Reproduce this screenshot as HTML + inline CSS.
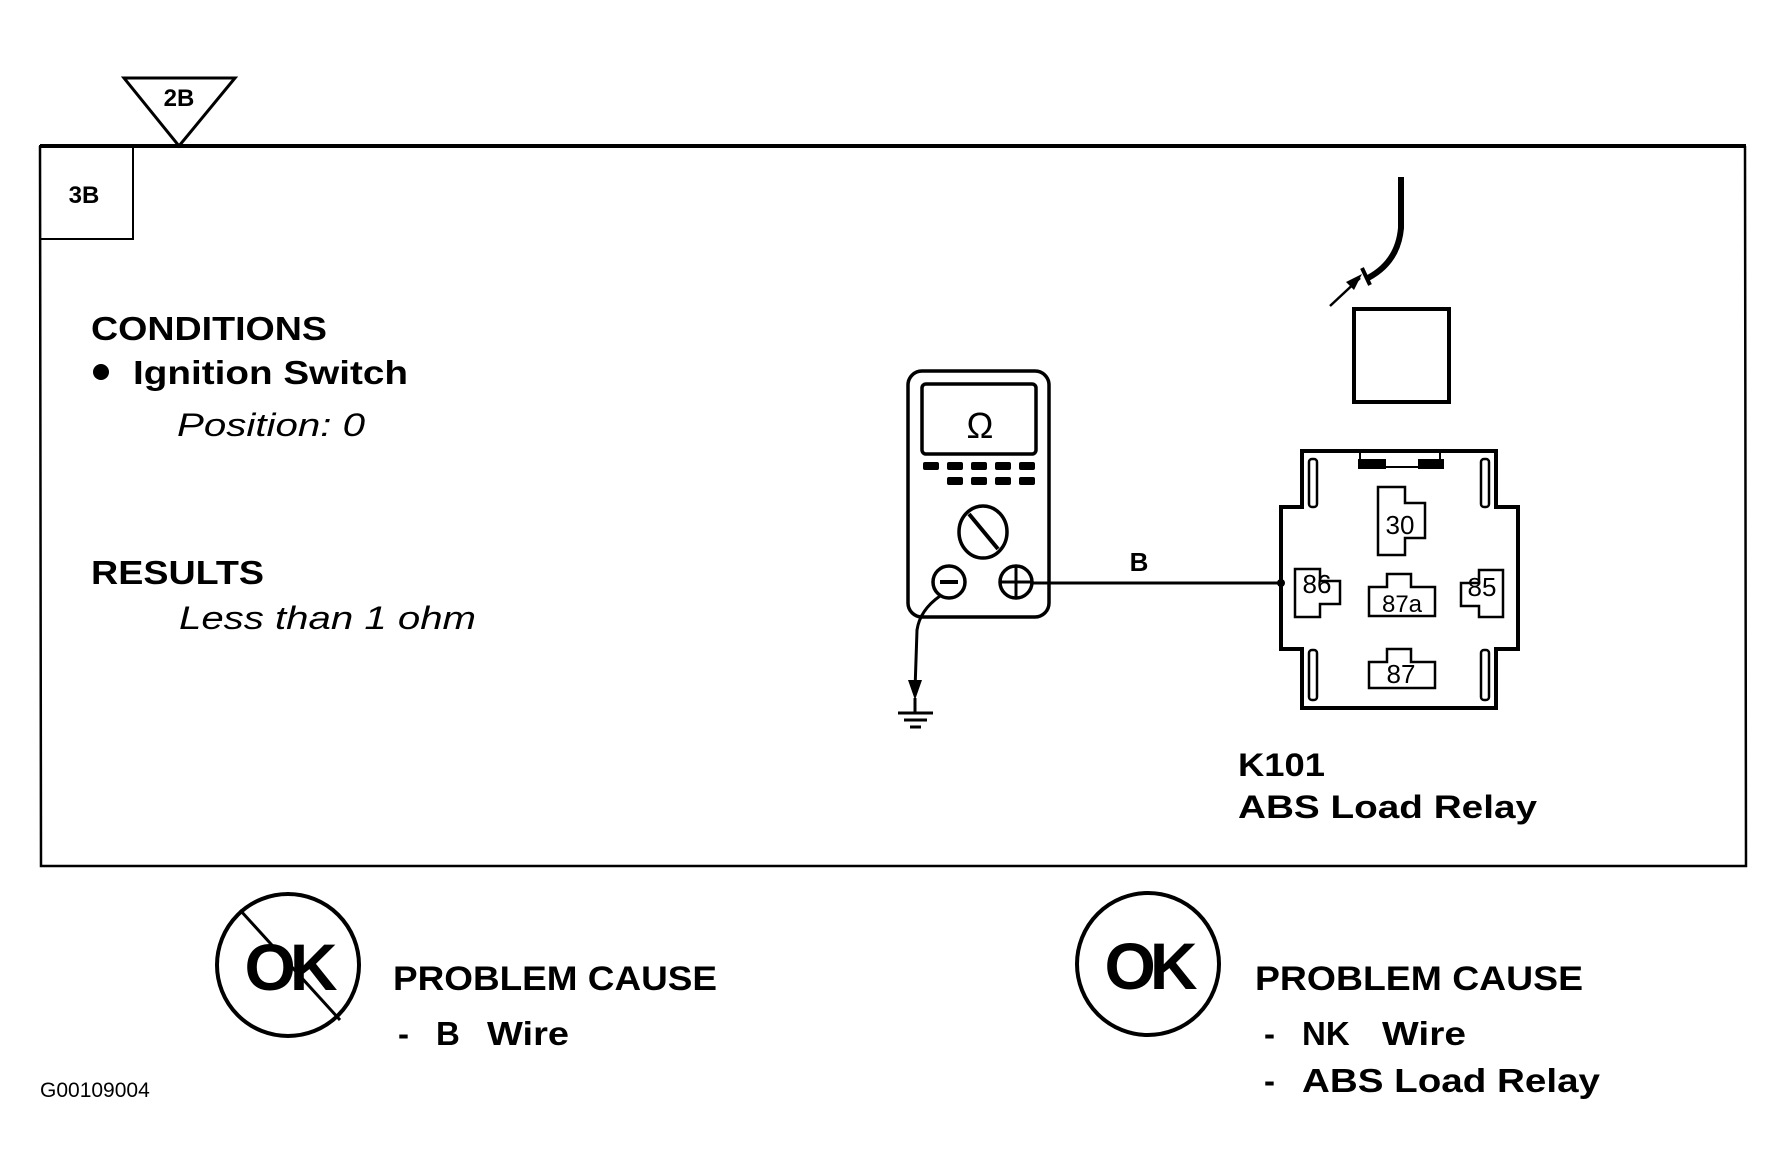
<!DOCTYPE html>
<html><head><meta charset="utf-8"><style>
html,body{margin:0;padding:0;background:#fff;}
svg{display:block;}
text{font-family:"Liberation Sans",sans-serif;fill:#000;}
</style></head><body>
<svg width="1785" height="1176" viewBox="0 0 1785 1176" xmlns="http://www.w3.org/2000/svg">
<!-- frame -->
<line x1="40" y1="146" x2="1746" y2="146" stroke="#000" stroke-width="4"/>
<polyline points="40,146 41,866 1746,866 1745,146" fill="none" stroke="#000" stroke-width="2.5"/>
<rect x="40" y="146" width="93" height="93" fill="none" stroke="#000" stroke-width="2"/>
<text x="84" y="203" font-size="24" font-weight="bold" text-anchor="middle">3B</text>
<polygon points="124,78 235,78 179,146" fill="#fff" stroke="#000" stroke-width="3"/>
<text x="179" y="106" font-size="24" font-weight="bold" text-anchor="middle">2B</text>

<!-- left texts -->
<text x="91" y="340" font-size="33" font-weight="bold" textLength="236" lengthAdjust="spacingAndGlyphs">CONDITIONS</text>
<circle cx="101" cy="372" r="8"/>
<text x="133" y="384" font-size="33" font-weight="bold" textLength="275" lengthAdjust="spacingAndGlyphs">Ignition Switch</text>
<text x="177" y="436" font-size="32" font-style="italic" textLength="188" lengthAdjust="spacingAndGlyphs">Position: 0</text>
<text x="91" y="584" font-size="33" font-weight="bold" textLength="173" lengthAdjust="spacingAndGlyphs">RESULTS</text>
<text x="179" y="629" font-size="32" font-style="italic" textLength="297" lengthAdjust="spacingAndGlyphs">Less than 1 ohm</text>

<!-- meter -->
<rect x="908" y="371" width="141" height="246" rx="14" fill="none" stroke="#000" stroke-width="3.5"/>
<rect x="922" y="384" width="114" height="70" rx="4" fill="none" stroke="#000" stroke-width="3.5"/>
<text x="980" y="438" font-size="36" text-anchor="middle">Ω</text>
<g fill="#000">
<rect x="923" y="462" width="16" height="8" rx="2"/><rect x="947" y="462" width="16" height="8" rx="2"/><rect x="971" y="462" width="16" height="8" rx="2"/><rect x="995" y="462" width="16" height="8" rx="2"/><rect x="1019" y="462" width="16" height="8" rx="2"/>
<rect x="947" y="477" width="16" height="8" rx="2"/><rect x="971" y="477" width="16" height="8" rx="2"/><rect x="995" y="477" width="16" height="8" rx="2"/><rect x="1019" y="477" width="16" height="8" rx="2"/>
</g>
<ellipse cx="983" cy="532" rx="24" ry="26" fill="none" stroke="#000" stroke-width="3.5"/>
<line x1="969" y1="514" x2="998" y2="549" stroke="#000" stroke-width="4"/>
<circle cx="949" cy="582" r="16" fill="none" stroke="#000" stroke-width="3.5"/>
<line x1="940" y1="582" x2="958" y2="582" stroke="#000" stroke-width="4"/>
<circle cx="1016" cy="582" r="16" fill="none" stroke="#000" stroke-width="3.5"/>
<line x1="1000" y1="582" x2="1032" y2="582" stroke="#000" stroke-width="3"/>
<line x1="1016" y1="566" x2="1016" y2="598" stroke="#000" stroke-width="3"/>
<!-- wire -->
<line x1="1032" y1="583" x2="1282" y2="583" stroke="#000" stroke-width="3"/>
<circle cx="1281" cy="583" r="4"/>
<text x="1139" y="571" font-size="26" font-weight="bold" text-anchor="middle">B</text>
<!-- ground -->
<path d="M940,596 Q920,610 917,630 L915,690" fill="none" stroke="#000" stroke-width="3"/>
<polygon points="908,680 922,680 915,700" fill="#000"/>
<line x1="915" y1="698" x2="915" y2="712" stroke="#000" stroke-width="3"/>
<line x1="898" y1="713" x2="933" y2="713" stroke="#000" stroke-width="3"/>
<line x1="904" y1="720" x2="927" y2="720" stroke="#000" stroke-width="3"/>
<line x1="910" y1="727" x2="921" y2="727" stroke="#000" stroke-width="3"/>

<!-- plug wire -->
<path d="M1401,177 L1401,228 Q1398,262 1368,278" fill="none" stroke="#000" stroke-width="6"/>
<line x1="1362" y1="268" x2="1370" y2="285" stroke="#000" stroke-width="4"/>
<line x1="1330" y1="306" x2="1360" y2="278" stroke="#000" stroke-width="2.5"/>
<polygon points="1362,274 1346,282 1354,290" fill="#000"/>
<rect x="1354" y="309" width="95" height="93" fill="none" stroke="#000" stroke-width="4"/>

<!-- relay -->
<path d="M1302,451 L1496,451 L1496,507 L1518,507 L1518,649 L1496,649 L1496,708 L1302,708 L1302,649 L1281,649 L1281,507 L1302,507 Z" fill="none" stroke="#000" stroke-width="4"/>
<rect x="1309" y="459" width="8" height="48" rx="3" fill="none" stroke="#000" stroke-width="2.5"/>
<rect x="1481" y="459" width="8" height="48" rx="3" fill="none" stroke="#000" stroke-width="2.5"/>
<rect x="1309" y="650" width="8" height="50" rx="3" fill="none" stroke="#000" stroke-width="2.5"/>
<rect x="1481" y="650" width="8" height="50" rx="3" fill="none" stroke="#000" stroke-width="2.5"/>
<path d="M1360,451 L1360,467 L1440,467 L1440,451" fill="none" stroke="#000" stroke-width="2"/>
<rect x="1358" y="459" width="28" height="10" fill="#000"/>
<rect x="1418" y="459" width="26" height="10" fill="#000"/>
<g fill="none" stroke="#000" stroke-width="2.5">
<path d="M1378,487 L1405,487 L1405,503 L1425,503 L1425,538 L1405,538 L1405,555 L1378,555 Z"/>
<path d="M1295,569 L1320,569 L1320,581 L1340,581 L1340,604 L1320,604 L1320,617 L1295,617 Z"/>
<path d="M1387,574 L1411,574 L1411,587 L1435,587 L1435,616 L1369,616 L1369,587 L1387,587 Z"/>
<path d="M1503,570 L1479,570 L1479,583 L1461,583 L1461,606 L1479,606 L1479,617 L1503,617 Z"/>
<path d="M1387,649 L1411,649 L1411,662 L1435,662 L1435,688 L1369,688 L1369,662 L1387,662 Z"/>
</g>
<text x="1400" y="534" font-size="26" text-anchor="middle">30</text>
<text x="1317" y="593" font-size="26" text-anchor="middle">86</text>
<text x="1402" y="612" font-size="24" text-anchor="middle">87a</text>
<text x="1482" y="596" font-size="26" text-anchor="middle">85</text>
<text x="1401" y="683" font-size="26" text-anchor="middle">87</text>

<text x="1238" y="776" font-size="32" font-weight="bold" textLength="87" lengthAdjust="spacingAndGlyphs">K101</text>
<text x="1238" y="818" font-size="32" font-weight="bold" textLength="299" lengthAdjust="spacingAndGlyphs">ABS Load Relay</text>

<!-- bottom left -->
<circle cx="288" cy="965" r="71" fill="none" stroke="#000" stroke-width="4"/>
<text x="288" y="990" font-size="66" font-weight="bold" text-anchor="middle" letter-spacing="-6">OK</text>
<line x1="240" y1="910" x2="340" y2="1020" stroke="#000" stroke-width="3"/>
<text x="393" y="990" font-size="34" font-weight="bold" textLength="324" lengthAdjust="spacingAndGlyphs">PROBLEM CAUSE</text>
<text x="398" y="1045" font-size="33" font-weight="bold">-</text>
<text x="436" y="1045" font-size="33" font-weight="bold">B</text>
<text x="487" y="1045" font-size="33" font-weight="bold" textLength="82" lengthAdjust="spacingAndGlyphs">Wire</text>

<!-- bottom right -->
<circle cx="1148" cy="964" r="71" fill="none" stroke="#000" stroke-width="4"/>
<text x="1148" y="989" font-size="66" font-weight="bold" text-anchor="middle" letter-spacing="-6">OK</text>
<text x="1255" y="990" font-size="34" font-weight="bold" textLength="328" lengthAdjust="spacingAndGlyphs">PROBLEM CAUSE</text>
<text x="1264" y="1045" font-size="33" font-weight="bold">-</text>
<text x="1302" y="1045" font-size="33" font-weight="bold">NK</text>
<text x="1382" y="1045" font-size="33" font-weight="bold" textLength="84" lengthAdjust="spacingAndGlyphs">Wire</text>
<text x="1264" y="1092" font-size="33" font-weight="bold">-</text>
<text x="1302" y="1092" font-size="33" font-weight="bold" textLength="298" lengthAdjust="spacingAndGlyphs">ABS Load Relay</text>

<text x="40" y="1097" font-size="21">G00109004</text>
</svg>
</body></html>
